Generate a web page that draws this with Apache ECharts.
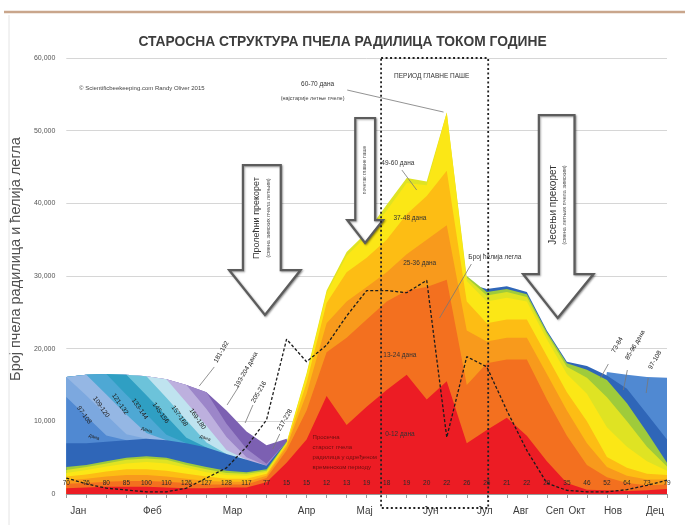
<!DOCTYPE html>
<html><head><meta charset="utf-8">
<script src="https://cdn.jsdelivr.net/npm/echarts/dist/echarts.min.js"></script>
<style>html,body{margin:0;padding:0;background:#fff}#c{width:685px;height:525px}</style>
</head><body><div id="c"></div>
<script>
// ---------- DATA ----------
const ageLabels = ['70','76','80','85','100','110','126','127','128','117','77','15','15','12','13','19','18','19','20','22','26','26','21','22','29','35','46','52','64','73','79'];
const months  = ['Јан','Феб','Мар','Апр','Мај','Јун','Јул','Авг','Сеп','Окт','Нов','Дец'];
const monthAt = [6, 43, 83, 120, 149, 182, 209, 227, 244, 255, 273, 294]; // tenths of a step

// cumulative upper edge of each age band (bees), bottom band first
const age0_12   = [800,900,1000,1000,1000,900,800,800,900,900,1600,4300,7500,13500,9500,12000,14300,16400,13000,15500,7000,8800,10500,8000,4500,1500,600,500,400,500,700];
const age13_24  = [1400,1500,1700,1800,1800,1700,1500,1300,1300,1300,2200,6000,11500,19500,21500,24000,26500,28000,28500,29500,15000,18000,18500,18500,13000,8000,4000,2300,1500,1200,1300];
const age25_36  = [1900,2100,2400,2600,2600,2400,2100,1800,1700,1700,2500,6500,13800,23500,26500,28500,30500,33000,35000,37000,22500,21000,21500,21500,16500,11500,7000,3700,2500,2000,2000];
const age37_48  = [2400,2700,3100,3400,3400,3200,2800,2400,2100,2100,2800,6800,15300,26300,30500,32500,35000,38500,41000,44500,26500,23500,24000,24000,19000,14000,10000,5100,3600,2800,2600];
const age49_60  = [2900,3300,3800,4200,4400,4200,3600,3000,2600,2500,3000,7000,16400,27700,32800,35500,39000,42800,42500,52500,29300,26500,27000,26500,21300,16500,13800,9200,6500,4500,3200];
const age61_72  = [3300,3700,4200,4700,4900,4700,4000,3400,2900,2800,3200,7100,16600,28000,33300,36000,39800,43500,43000,52500,29800,27300,27800,27100,22000,17500,16000,13300,10000,6500,3800];
const age73_84  = [3700,4000,4500,5000,5200,5000,4300,3700,3200,3000,3400,7200,0,0,0,0,0,0,0,0,30000,27800,28200,27500,22300,18000,17100,15700,12500,8500,4300];
const age85_96  = [7000,7000,7200,7400,7600,7400,7000,6400,5500,4700,3900,7200,0,0,0,0,0,0,0,0,29000,28200,28600,27800,22500,18200,17600,16300,14500,11000,7500];
const age97_108 = [13340,10700,8050,7400,0,0,0,0,0,0,0,0,0,0,0,0,0,0,0,0,0,0,0,0,0,0,0,16800,16400,16100,16000];
const age109_120= [16100,13550,10860,8220,7600,0,0,0,0,0,0,0,0,0,0,0,0,0,0,0,0,0,0,0,0,0,0,0,0,0,0];
const age121_132= [16100,16400,13680,10950,8380,7400,0,0,0,0,0,0,0,0,0,0,0,0,0,0,0,0,0,0,0,0,0,0,0,0,0];
const age133_144= [16100,16400,16500,13670,10990,8160,7000,0,0,0,0,0,0,0,0,0,0,0,0,0,0,0,0,0,0,0,0,0,0,0,0];
const age145_156= [16100,16400,16500,16400,13590,10710,7730,6400,0,0,0,0,0,0,0,0,0,0,0,0,0,0,0,0,0,0,0,0,0,0,0];
const age157_168= [16100,16400,16500,16400,16200,13250,10150,7090,5500,0,0,0,0,0,0,0,0,0,0,0,0,0,0,0,0,0,0,0,0,0,0];
const age169_180= [16100,16400,16500,16400,16200,15800,12580,9390,6050,4700,0,0,0,0,0,0,0,0,0,0,0,0,0,0,0,0,0,0,0,0,0];
const age181_192= [16100,16400,16500,16400,16200,15800,15000,11700,7860,5050,3900,0,0,0,0,0,0,0,0,0,0,0,0,0,0,0,0,0,0,0,0];
const age193_204= [16100,16400,16500,16400,16200,15800,15000,14000,9680,6240,4150,7200,0,0,0,0,0,0,0,0,0,0,0,0,0,0,0,0,0,0,0];
const age205_228= [16100,16400,16500,16400,16200,15800,15000,14000,11500,8600,6700,7600,0,0,0,0,0,0,0,0,0,0,0,0,0,0,0,0,0,0,0];

const broodCells = [2200,1400,800,550,300,300,800,2200,3600,6500,10200,21300,18200,20500,24500,28000,28000,27700,29400,7800,18900,17500,11500,6000,1500,500,300,300,600,1200,1900];

const bandNames  = ['0-12','13-24','25-36','37-48','49-60','61-72','73-84','85-96','97-108','109-120','121-132','133-144','145-156','157-168','169-180','181-192','193-204','205-228'];
const bandColors = ['#ec1c24','#f3701f','#f89a1c','#fdbd14','#fbe716','#dfe323','#9fcb3b','#2f66b8','#5089d2','#7ca8df','#95b7e4','#4ea8d4','#2f9fc3','#6cc3da','#bfe3ef','#bdb0de','#9c86c9','#7c60b2'];
const bandData   = [age0_12,age13_24,age25_36,age37_48,age49_60,age61_72,age73_84,age85_96,age97_108,age109_120,age121_132,age133_144,age145_156,age157_168,age169_180,age181_192,age193_204,age205_228];

const FONT = "'Liberation Sans Narrow','Liberation Sans',Arial,sans-serif";

// ---------- CHART ----------
const chart = echarts.init(document.getElementById('c'), null, {renderer:'canvas'});
const series = [];
for (let k = bandData.length - 1; k >= 0; k--) {
  series.push({
    name: bandNames[k], type:'line', xAxisIndex:0, yAxisIndex:0,
    data: bandData[k], symbol:'none', silent:true,
    lineStyle:{width:0}, areaStyle:{color:bandColors[k], opacity:1},
    z:2
  });
}
series.push({
  name:'Број ћелија легла', type:'line', xAxisIndex:0, yAxisIndex:0, data: broodCells,
  symbol:'none', silent:true, lineStyle:{color:'#1c1c1c', width:1.3, type:[3,2]}, z:6
});

const option = {
  animation:false,
  backgroundColor:'#fff',
  title:{text:'СТАРОСНА СТРУКТУРА ПЧЕЛА РАДИЛИЦА ТОКОМ ГОДИНЕ', left:'center', top:30,
    textStyle:{fontFamily:FONT, fontSize:13.8, fontWeight:'bold', color:'#3d3d3d'}},
  grid:{left:62, right:18, top:58, bottom:31},
  xAxis:[
    {type:'category', data:ageLabels, boundaryGap:false, z:10,
     axisLine:{lineStyle:{color:'#9a9a9a'}},
     axisTick:{show:true, length:4, lineStyle:{color:'#9a9a9a'}},
     axisLabel:{inside:true, interval:0, margin:7, fontSize:6.5, color:'#2a2a2a', fontFamily:FONT},
     splitLine:{show:false}},
    {type:'value', min:0, max:300, interval:1, position:'bottom',
     axisLine:{show:false}, axisTick:{show:false}, splitLine:{show:false},
     axisLabel:{margin:12, fontSize:10, color:'#3a3a3a', fontFamily:FONT,
       formatter: v => { const k = monthAt.indexOf(Math.round(v)); return k >= 0 ? months[k] : ''; }}}
  ],
  yAxis:{type:'value', min:0, max:60000, interval:10000,
    name:'Број пчела радилица и ћелија легла', nameLocation:'middle', nameGap:29,
    nameTextStyle:{fontFamily:"'Liberation Sans',Arial,sans-serif", fontSize:14.5, color:'#505050', padding:[0,0,0,34]},
    axisLine:{show:false}, axisTick:{show:false},
    axisLabel:{fontSize:7, color:'#555', margin:11, fontFamily:FONT, formatter: v => v.toLocaleString('en-US')},
    splitLine:{lineStyle:{color:'#d6d6d6'}}},
  series: series
};
chart.setOption(option);

// ---------- ANNOTATIONS (placed in axis coordinates) ----------
// [text, x(tenths of step), y(value), fontSize, rotationDeg, align, color]
const notes = [
  ['© Scientificbeekeeping.com Randy Oliver 2015', 6.4, 55870, 6, 0, 'left', '#444'],
  ['60-70 дана', 125.5, 56420, 6.5, 0, 'center', '#333'],
  ['(најстарије летње пчеле)', 123, 54490, 5.5, 0, 'center', '#444'],
  ['ПЕРИОД ГЛАВНЕ ПАШЕ', 182.5, 57520, 6.5, 0, 'center', '#333'],
  ['49-60 дана', 165.6, 45550, 6.5, 0, 'center', '#333'],
  ['37-48 дана', 171.6, 37980, 6.5, 0, 'center', '#333'],
  ['25-36 дана', 176.5, 31790, 6.5, 0, 'center', '#333'],
  ['13-24 дана', 166.6, 19130, 6.5, 0, 'center', '#333'],
  ['0-12 дана', 166.6, 8260, 6.5, 0, 'center', '#333'],
  ['Број ћелија легла', 200.8, 32610, 6.5, 0, 'left', '#333'],
  ['Просечна', 123, 7840, 6, 0, 'left', '#6e0f0f'],
  ['старост пчела', 123, 6470, 6, 0, 'left', '#6e0f0f'],
  ['радилица у одређеном', 123, 5090, 6, 0, 'left', '#6e0f0f'],
  ['временском периоду', 123, 3720, 6, 0, 'left', '#6e0f0f'],
  ['97-108', 8.9, 10870, 6.5, -55, 'center', '#222'],
  ['109-120', 17.4, 11970, 6.5, -55, 'center', '#222'],
  ['121-132', 26.8, 12380, 6.5, -55, 'center', '#222'],
  ['133-144', 36.7, 11700, 6.5, -55, 'center', '#222'],
  ['145-156', 47.1, 11150, 6.5, -55, 'center', '#222'],
  ['157-168', 56.5, 10730, 6.5, -55, 'center', '#222'],
  ['169-180', 65.5, 10320, 6.5, -55, 'center', '#222'],
  ['дана', 13.9, 7840, 5, -20, 'center', '#222'],
  ['дана', 40.2, 8810, 5, -20, 'center', '#222'],
  ['дана', 69.4, 7710, 5, -20, 'center', '#222'],
  ['181-192', 77.4, 19540, 6.5, 60, 'center', '#222'],
  ['193-204 дана', 89.8, 17060, 6.5, 60, 'center', '#222'],
  ['205-216', 96.2, 14040, 6.5, 60, 'center', '#222'],
  ['217-228', 109.1, 10180, 6.5, 60, 'center', '#222'],
  ['73-84', 275.2, 20500, 6.5, 60, 'center', '#222'],
  ['85-96 дана', 284.1, 20500, 6.5, 60, 'center', '#222'],
  ['97-108', 294.0, 18440, 6.5, 60, 'center', '#222'],
  ['Пролећни прекорет', 95.2, 37980, 9, 90, 'center', '#333'],
  ['(смена зимских пчела летњим)', 101.2, 37980, 5.5, 90, 'center', '#555'],
  ['Јесењи прекорет', 243.0, 39770, 10, 90, 'center', '#333'],
  ['(смена летњих пчела зимским)', 248.9, 39770, 5.5, 90, 'center', '#555'],
  ['почетак главне паше', 149.2, 44580, 5, 90, 'center', '#555']
];
const leaders = [
  [140.3,55590,188.4,52560],[167.6,44580,175,41830],[202.3,31650,186.4,24220],
  [73.9,17480,66.4,14860],[86.3,14860,80.3,12250],[93.2,12250,89.3,9770],[106.6,8260,103.1,6190],
  [270.7,17890,266.8,15960],[280.2,17060,278.2,14310],[290.6,15960,289.6,13900]
];
// [shaftL, shaftR, headL, headR, tipX, top, headBase, tip]
const arrows = [
  [88.2,107.1,81.3,117.0,99.2,45270,30820,24630],
  [144.3,154.2,140.3,158.2,149.2,51740,37700,34540],
  [236,253.8,228.1,263.3,245.4,52150,30270,24220]
];
const mainFlowBox = [157.2, 210.7, 60000, -1926];

const X = v => chart.convertToPixel({xAxisIndex:1}, v);
const Y = v => chart.convertToPixel({yAxisIndex:0}, v);
const g = [];
g.push({type:'line', shape:{x1:4,y1:12,x2:685,y2:12}, style:{stroke:'#c9a68c', lineWidth:2.5}, z:100});
g.push({type:'line', shape:{x1:9,y1:15,x2:9,y2:525}, style:{stroke:'#e4e4e4', lineWidth:1}, z:100});
arrows.forEach(a => {
  const [sl,sr,hl,hr,tx,top,hb,tip] = a;
  g.push({type:'polygon', z:100, shape:{points:[
    [X(sl),Y(top)],[X(sr),Y(top)],[X(sr),Y(hb)],[X(hr),Y(hb)],[X(tx),Y(tip)],[X(hl),Y(hb)],[X(sl),Y(hb)]]},
    style:{fill:'#ffffff', stroke:'#5c5c5c', lineWidth:2.2, shadowBlur:2, shadowColor:'rgba(0,0,0,0.35)', shadowOffsetX:1, shadowOffsetY:1}});
});
{
  const [x1,x2,y1,y2] = mainFlowBox;
  g.push({type:'rect', z:101, shape:{x:X(x1), y:Y(y1), width:X(x2)-X(x1), height:Y(y2)-Y(y1)},
    style:{fill:'none', stroke:'#222', lineWidth:1.8, lineDash:[2,2.5]}});
}
leaders.forEach(l => {
  g.push({type:'line', z:102, shape:{x1:X(l[0]),y1:Y(l[1]),x2:X(l[2]),y2:Y(l[3])}, style:{stroke:'#777', lineWidth:0.8}});
});
notes.forEach(n => {
  g.push({type:'text', z:103, x:X(n[1]), y:Y(n[2]), rotation:n[4]*Math.PI/180,
    style:{text:n[0], x:0, y:0, fill:n[6], fontSize:n[3], fontFamily:FONT,
      align:n[5], textAlign:n[5], verticalAlign:'middle', textVerticalAlign:'middle'}});
});
chart.setOption({graphic:{elements:g}});
</script>
</body></html>
